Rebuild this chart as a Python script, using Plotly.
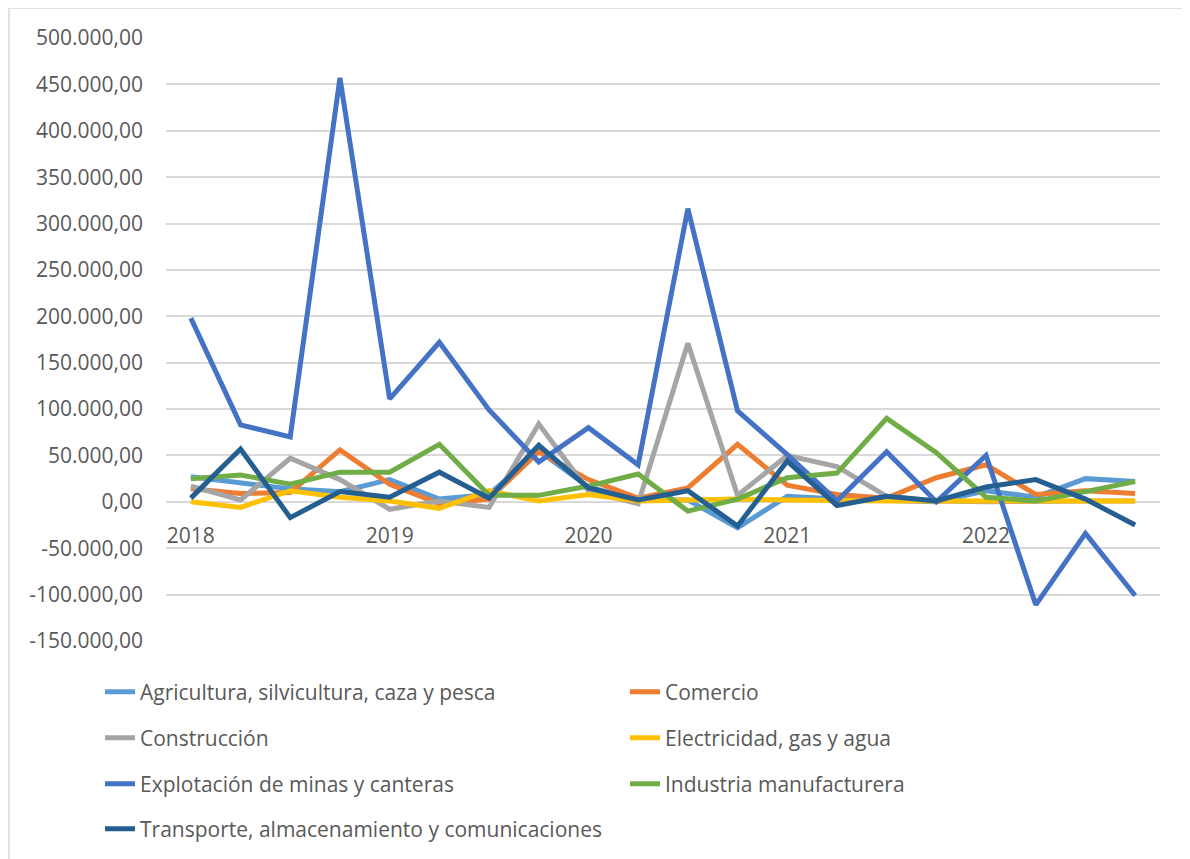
import plotly.graph_objects as go

quarters = list(range(20))
year_ticks = [0, 4, 8, 12, 16]
year_labels = ["2018", "2019", "2020", "2021", "2022"]

y_ticks = [500000, 450000, 400000, 350000, 300000, 250000, 200000, 150000, 100000,
           50000, 0, -50000, -100000, -150000]
y_labels = ["500.000,00", "450.000,00", "400.000,00", "350.000,00", "300.000,00",
            "250.000,00", "200.000,00", "150.000,00", "100.000,00", "50.000,00",
            "0,00", "-50.000,00", "-100.000,00", "-150.000,00"]

agricultura = [27000, 20000, 14000, 11000, 24000, 3000, 8000, 55000, 16000, 2000,
               2000, -28000, 6000, 3000, 1000, 0, 12000, 5000, 25000, 22000]
comercio = [14000, 9000, 10000, 56000, 19000, -2000, 3000, 54000, 24000, 4000,
            15000, 62000, 18000, 8000, 4000, 26000, 40000, 8000, 12000, 9000]
construccion = [17000, 2000, 47000, 24000, -8000, 1000, -6000, 84000, 12000, -2000,
                171000, 7000, 50000, 38000, 6000, 1000, 0, 1000, 1000, 1000]
electricidad = [0, -6000, 12000, 5000, 1000, -7000, 12000, 1000, 8000, 1000,
                2000, 3000, 2000, 1000, 1000, 1000, 1000, 1000, 2000, 1000]
minas = [198000, 83000, 70000, 457000, 111000, 172000, 99000, 43000, 80000, 40000,
         316000, 98000, 51000, 1000, 54000, 0, 50000, -111000, -34000, -101000]
industria = [25000, 29000, 19000, 32000, 32000, 62000, 7000, 7000, 17000, 30000,
             -10000, 3000, 26000, 31000, 90000, 53000, 5000, 1000, 11000, 22000]
transporte = [4000, 57000, -17000, 11000, 5000, 32000, 4000, 61000, 15000, 2000,
              12000, -26000, 44000, -4000, 6000, 1000, 16000, 24000, 3000, -25000]

series = [
    ("Agricultura, silvicultura, caza y pesca", agricultura, "#5B9BD5", "legend"),
    ("Comercio", comercio, "#ED7D31", "legend"),
    ("Construcción", construccion, "#A5A5A5", "legend2"),
    ("Electricidad, gas y agua", electricidad, "#FFC000", "legend2"),
    ("Explotación de minas y canteras", minas, "#4472C4", "legend3"),
    ("Industria manufacturera", industria, "#70AD47", "legend3"),
    ("Transporte, almacenamiento y comunicaciones", transporte, "#255E91", "legend4"),
]

# page offset from the default 8px body margin
OFF = 8
W, H = 1190 - OFF, 859 - OFF
L, T = 166 - OFF, 38 - OFF
R = W - (1160 - OFF)
B = H - (641 - OFF)
pw, ph = W - L - R, H - T - B


def px_x(x):
    return (x - OFF - L) / pw


def px_y(y):
    return (H - B - (y - OFF)) / ph


fig = go.Figure()
for name, vals, color, lg in series:
    fig.add_trace(go.Scatter(
        x=quarters, y=vals, name=name, mode="lines",
        line=dict(color=color, width=5),
        legend=lg,
    ))

font_color = "#595959"
fam = "Open Sans, Noto Sans, sans-serif"

legend_common = dict(
    orientation="h", entrywidth=480, entrywidthmode="pixels",
    xanchor="left", yanchor="middle", x=px_x(100),
    font=dict(family=fam, size=21, color=font_color),
    bgcolor="rgba(0,0,0,0)", itemwidth=30, traceorder="normal",
)
rows_y = [692, 738, 784, 829]

fig.update_layout(
    width=W, height=H,
    margin=dict(l=L, r=R, t=T, b=B, autoexpand=False),
    paper_bgcolor="white", plot_bgcolor="white",
    font=dict(family=fam, size=21, color=font_color),
    showlegend=True,
    legend=dict(legend_common, y=px_y(rows_y[0])),
    legend2=dict(legend_common, y=px_y(rows_y[1])),
    legend3=dict(legend_common, y=px_y(rows_y[2])),
    legend4=dict(legend_common, y=px_y(rows_y[3])),
    xaxis=dict(
        range=[-0.5, 19.5], tickmode="array", tickvals=year_ticks, ticktext=year_labels,
        showgrid=False, zeroline=False, showline=False, ticks="",
        anchor="free", position=150000 / 650000,
        tickfont=dict(family=fam, size=21, color=font_color),
        ticklabelstandoff=19,
    ),
    yaxis=dict(
        range=[-150000, 500000], tickmode="array", tickvals=y_ticks, ticktext=y_labels,
        showgrid=True, gridcolor="#D9D9D9", gridwidth=1.5,
        zeroline=True, zerolinecolor="#D9D9D9", zerolinewidth=1.5,
        showline=False, ticks="", ticklabelstandoff=22,
        tickfont=dict(family=fam, size=21, color=font_color),
    ),
    shapes=[dict(
        type="rect", xref="paper", yref="paper",
        x0=px_x(9), x1=px_x(1189), y0=px_y(875), y1=px_y(8),
        line=dict(color="#D9D9D9", width=1.5), fillcolor="rgba(0,0,0,0)", layer="below",
    )],
)

fig.write_html("out.html")
